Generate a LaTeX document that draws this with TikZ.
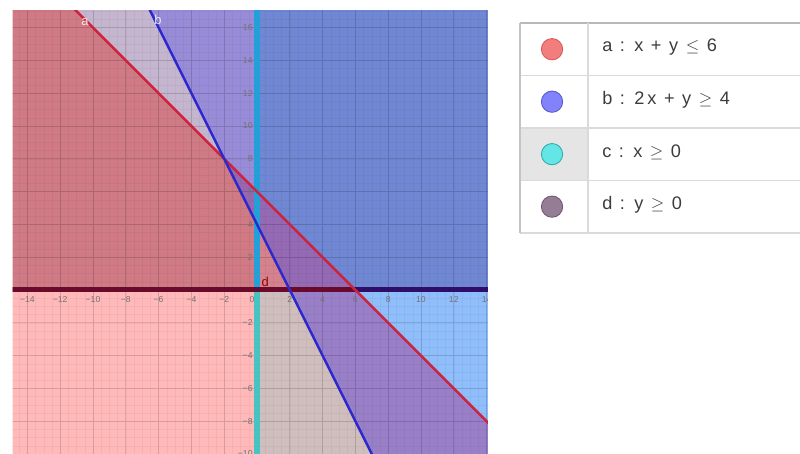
\documentclass[tikz,border=0pt]{standalone}
\usepackage{fontspec}
\setmainfont{Liberation Sans}
\newfontfamily\legendfont[WordSpace=1.5]{Liberation Sans}
\usetikzlibrary{positioning}
\definecolor{regAD}{RGB}{207,122,133}
\definecolor{regD}{RGB}{197,182,207}
\definecolor{regBD}{RGB}{152,140,216}
\definecolor{regBCD}{RGB}{112,136,212}
\definecolor{regABCD}{RGB}{148,106,180}
\definecolor{regABD}{RGB}{150,104,178}
\definecolor{regACD}{RGB}{212,130,142}
\definecolor{regA}{RGB}{255,185,185}
\definecolor{regAC}{RGB}{208,190,190}
\definecolor{regABC}{RGB}{152,127,200}
\definecolor{regBC}{RGB}{143,190,250}
\definecolor{linered}{RGB}{205,35,60}
\definecolor{lineblue}{RGB}{45,40,205}
\definecolor{cyanup}{RGB}{35,160,215}
\definecolor{cyandown}{RGB}{70,195,195}
\definecolor{axisleft}{RGB}{105,10,45}
\definecolor{axisright}{RGB}{45,15,105}
\definecolor{tabgray}{RGB}{218,218,218}
\definecolor{textgray}{RGB}{60,60,60}

\begin{document}
\begin{tikzpicture}[
        x=0.4cm, y=0.4cm,
        minorgrid/.style={draw=black, opacity=0.04, line width=0.3pt},
        majorgrid/.style={draw=black, opacity=0.12, line width=0.5pt},
        bound/.style={line width=1.7pt},
        axisline/.style={line width=3.5pt},
        ticklabel/.style={text=black!55, font=\fontsize{6}{7}\selectfont, inner sep=0pt},
        linelabel/.style={font=\fontsize{9}{10}\selectfont, inner sep=0pt},
        tabline/.style={draw=tabgray, line width=1pt},
        dot/.style={circle, draw, line width=0.6pt, minimum width=0.52cm, minimum height=0.52cm, inner sep=0pt},
        eqn/.style={anchor=west, text=textgray, font=\legendfont\fontsize{12.6}{14}\selectfont, inner sep=0pt}
    ]
    \useasboundingbox (-15.67,-10.0) rectangle (33.11,17.68);

    % Graph view
    \begin{scope}
    \clip (-14.9,-10.1) rectangle (14.08,17.07);

    % Regions above the x axis
    \fill[regAD] (-15,0) -- (0,0) -- (0,4) -- (-2,8) -- (-11.2,17.2) -- (-15,17.2) -- cycle;
    \fill[regD] (-2,8) -- (-11.2,17.2) -- (-6.6,17.2) -- cycle;
    \fill[regABD] (-2,8) -- (0,4) -- (0,6) -- cycle;
    \fill[regBD] (-2,8) -- (0,6) -- (0,17.2) -- (-6.6,17.2) -- cycle;
    \fill[regBCD] (0,6) -- (6,0) -- (14.5,0) -- (14.5,17.2) -- (0,17.2) -- cycle;
    \fill[regABCD] (0,4) -- (0,6) -- (6,0) -- (2,0) -- cycle;
    \fill[regACD] (0,0) -- (2,0) -- (0,4) -- cycle;

    % Regions below the x axis
    \fill[regA] (-15,0) -- (0,0) -- (0,-10.2) -- (-15,-10.2) -- cycle;
    \fill[regAC] (0,0) -- (2,0) -- (7.1,-10.2) -- (0,-10.2) -- cycle;
    \fill[regABC] (2,0) -- (6,0) -- (14.5,-8.5) -- (14.5,-10.2) -- (7.1,-10.2) -- cycle;
    \fill[regBC] (6,0) -- (14.5,0) -- (14.5,-8.5) -- cycle;

    % Grid
    \draw[minorgrid, step=0.5] (-15,-10.5) grid (14.5,17.5);
    \draw[majorgrid, step=2] (-16,-12) grid (14.5,17.5);

    % Tick labels
    \foreach \t in {-14,-12,...,-2}
        \node[ticklabel] (xt\t) at (\t,-0.61) {−\the\numexpr-\t\relax};
    \foreach \t in {2,4,...,14}
        \node[ticklabel] (xt\t) at (\t,-0.61) {\t};
    \node[ticklabel] (xt0) at (-0.3,-0.61) {0};
    \foreach \t in {2,4,...,16}
        \node[ticklabel, anchor=east] (yt\t) at (-0.25,\t) {\t};
    \foreach \t in {2,4,...,10}
        \node[ticklabel, anchor=east] (ytm\t) at (-0.25,-\t) {−\t};

    % Boundary lines c and d
    \draw[axisline, cyandown] (0,-10.5) -- (0,0);
    \draw[axisline, cyanup] (0,0) -- (0,17.5);
    \draw[axisline, axisleft] (-15.5,0) -- (6,0);
    \draw[axisline, axisright] (6,0) -- (14.5,0);

    % Boundary lines a and b
    \draw[bound, linered] (-12,18) -- (15,-9);
    \draw[bound, lineblue] (-7,18) -- (8,-12);

    % Line names
    \node[linelabel, text=white!90!red] (namea) at (-10.49,16.34) {a};
    \node[linelabel, text=white!90!blue] (nameb) at (-6.04,16.46) {b};
    \node[linelabel, text=red!60!black] (named) at (0.5,0.5) {d};
    \end{scope}

    % Legend table
    \fill[tabgray!70] (16.04,9.88) rectangle (20.18,6.68);
    \draw[tabline, draw=tabgray!85!black] (16.04,16.28) -- (33.2,16.28);
    \foreach \yy in {13.08,9.88,6.68,3.48}
        \draw[tabline] (16.04,\yy) -- (33.2,\yy);
    \draw[tabline] (20.18,16.28) -- (20.18,3.48);
    \draw[tabline, draw=tabgray!90!black] (16.04,16.28) -- (16.04,3.48);

    % Legend entries
    \node[dot, fill={rgb,255:red,242;green,125;blue,125}, draw={rgb,255:red,215;green,90;blue,90}] (dota) at (17.99,14.68) {};
    \node[dot, fill={rgb,255:red,130;green,130;blue,250}, draw={rgb,255:red,90;green,90;blue,205}] (dotb) at (17.99,11.48) {};
    \node[dot, fill={rgb,255:red,100;green,230;blue,230}, draw={rgb,255:red,50;green,170;blue,170}] (dotc) at (17.99,8.28) {};
    \node[dot, fill={rgb,255:red,150;green,125;blue,150}, draw={rgb,255:red,110;green,88;blue,110}] (dotd) at (17.99,5.08) {};

    \node[eqn] (eqa) at (21.04,14.82) {a : x + y $\leq$ 6};
    \node[eqn] (eqb) at (21.04,11.62) {b : 2\,x + y $\geq$ 4};
    \node[eqn] (eqc) at (21.04,8.42) {c : x $\geq$ 0};
    \node[eqn] (eqd) at (21.04,5.22) {d : y $\geq$ 0};

\end{tikzpicture}
\end{document}
